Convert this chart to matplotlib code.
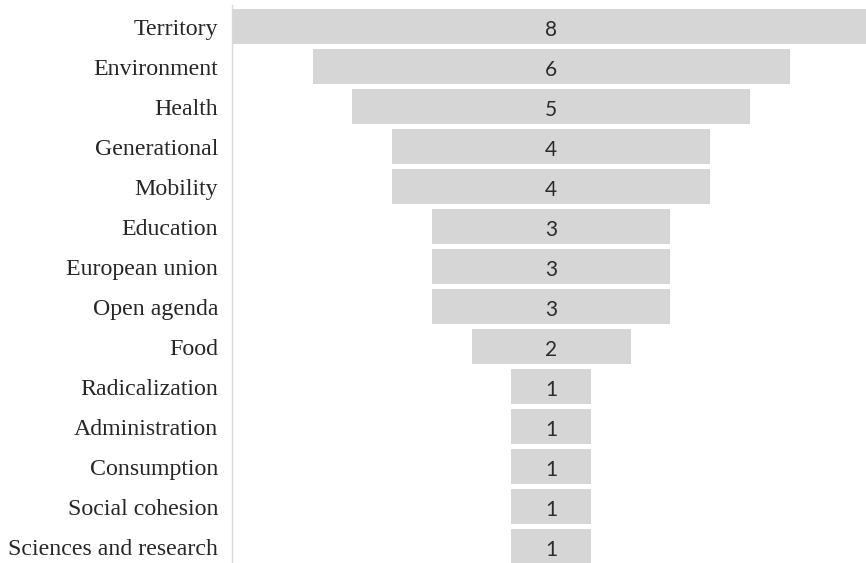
import numpy as np
import matplotlib.pyplot as plt

# --- data ---
categories = ["Territory", "Environment", "Health", "Generational", "Mobility",
              "Education", "European union", "Open agenda", "Food",
              "Radicalization", "Administration", "Consumption",
              "Social cohesion", "Sciences and research"]
counts = [8, 6, 5, 4, 4, 3, 3, 3, 2, 1, 1, 1, 1, 1]

W, H = 866, 563
fig = plt.figure(figsize=(W / 100, H / 100), dpi=100)
# axes box in pixel terms: left at the grey axis line, to the right edge
ax = fig.add_axes([232 / W, 0, 1 - 232 / W, 1 - 5 / H])

y = np.arange(len(categories))
vals = np.array(counts, dtype=float)
# funnel: bars centred on zero
ax.barh(y, vals, left=-vals / 2, height=0.89, color="#d6d6d6", edgecolor="none")

for yi, v in zip(y, counts):
    ax.text(0, yi + 0.03, str(v), ha="center", va="center_baseline", fontsize=15,
            family="Lato", color="#2b2b2b")

ax.set_xlim(-4.013, 3.962)
ax.set_ylim(13.41, -0.54)
ax.set_yticks(y)
ax.set_yticklabels(categories, family="Liberation Serif", fontsize=17.2, color="#262626")
ax.tick_params(axis="y", length=0, pad=10)
ax.set_xticks([])

for s in ["top", "right", "bottom"]:
    ax.spines[s].set_visible(False)
ax.spines["left"].set_color("#d9d9d9")
ax.spines["left"].set_linewidth(1.0)

fig.savefig("out.png", dpi=100)
